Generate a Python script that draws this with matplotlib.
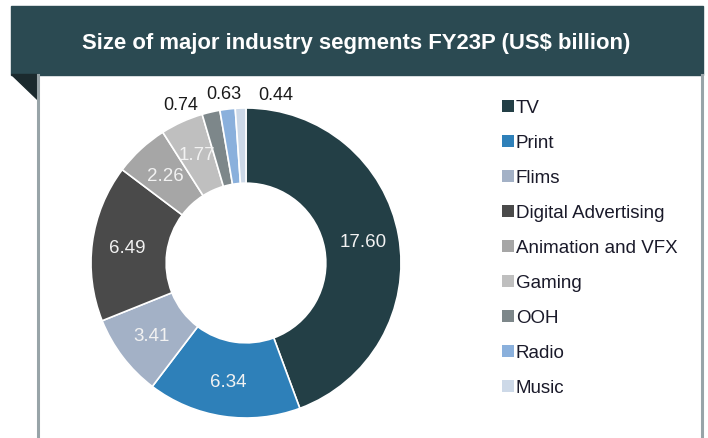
import matplotlib
matplotlib.use("Agg")
import matplotlib.pyplot as plt
import numpy as np
from matplotlib.patches import Rectangle, Polygon

# Data
segments = ["TV", "Print", "Flims", "Digital Advertising", "Animation and VFX",
            "Gaming", "OOH", "Radio", "Music"]
sizes = [17.60, 6.34, 3.41, 6.49, 2.26, 1.77, 0.74, 0.63, 0.44]
colors = ["#233f46", "#2e80b9", "#a3b1c6", "#4a4a4a", "#a6a6a6",
          "#bfbfbf", "#7d878a", "#8ab0dc", "#cdd9e8"]
title = "Size of major industry segments FY23P (US$ billion)"

plt.rcParams["font.family"] = ["Liberation Sans", "DejaVu Sans"]

W, H = 708, 439
fig = plt.figure(figsize=(W / 100, H / 100), dpi=100)

# Frame / header drawn in pixel coordinates
bg = fig.add_axes([0, 0, 1, 1])
bg.set_xlim(0, W)
bg.set_ylim(H, 0)
bg.axis("off")
bg.add_patch(Rectangle((11, 7), 692, 69, color="#2b4a52", zorder=1))
bg.add_patch(Polygon([(11, 75), (37, 75), (37, 100)], closed=True,
                     color="#1b2a2e", zorder=1))
bg.plot([37.5, 37.5], [76, H], color="#98a4a8", lw=2.2, zorder=2)
bg.plot([701.5, 701.5], [76, H], color="#98a4a8", lw=2.2, zorder=2)
bg.text(356, 43, title, color="white", fontsize=15.9, fontweight="bold",
        ha="center", va="center")

# Donut
cx, cy, r = 246, 264, 155
ax = fig.add_axes([(cx - r) / W, (H - cy - r) / H, 2 * r / W, 2 * r / H])
wedges, _ = ax.pie(sizes, colors=colors, startangle=90, counterclock=False,
                   wedgeprops=dict(width=0.485, edgecolor="white", linewidth=1.2))
ax.set_xlim(-1, 1)
ax.set_ylim(-1, 1)
ax.set_aspect("equal")
ax.axis("off")

# outer labels for small slices, nudged apart
nudges = {6: (-0.165, -0.07), 7: (-0.007, -0.02), 8: (0.233, -0.03)}
for i, (w, v) in enumerate(zip(wedges, sizes)):
    ang = np.deg2rad((w.theta1 + w.theta2) / 2)
    if i in nudges:
        dx, dy = nudges[i]
        ax.text(1.12 * np.cos(ang) + dx, 1.12 * np.sin(ang) + dy, f"{v:.2f}",
                ha="center", va="center", fontsize=13, color="#1a1a1a",
                clip_on=False)
    else:
        ax.text(0.77 * np.cos(ang), 0.77 * np.sin(ang), f"{v:.2f}",
                ha="center", va="center", fontsize=13.5, color="#f2f2f2")

leg = fig.legend(wedges, segments, loc="upper left",
                 bbox_to_anchor=(493 / W, 1 - 91 / H), frameon=False,
                 fontsize=13.5, handlelength=0.6, handleheight=0.6,
                 handletextpad=0.12, labelspacing=0.96, borderpad=0)
for t in leg.get_texts():
    t.set_color("#1a1a2a")
for p in leg.get_patches():
    p.set_edgecolor("none")

fig.savefig("out.png", dpi=100)
